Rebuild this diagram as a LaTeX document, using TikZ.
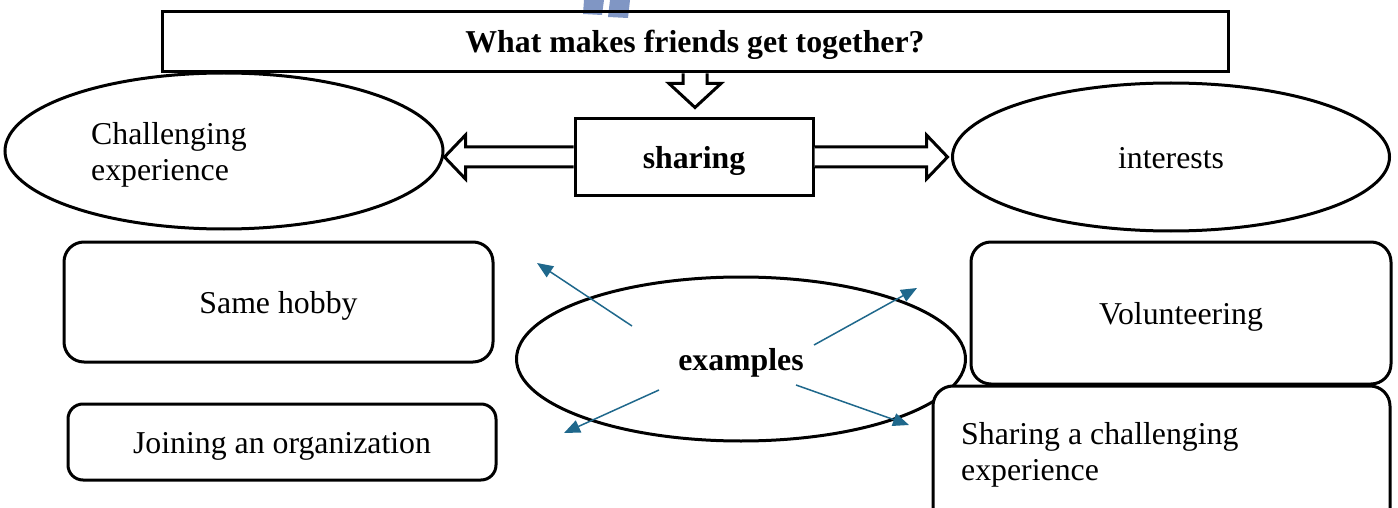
\documentclass[tikz,border=0pt]{standalone}
\usepackage{fontspec}
\setmainfont{Liberation Serif}
\usetikzlibrary{arrows.meta,calc,shapes.geometric}
\definecolor{arrowblue}{RGB}{31,104,140}
\definecolor{wmblue}{RGB}{128,150,196}
\begin{document}
\begin{tikzpicture}[x=1pt,y=-1pt,
  txt/.style={font=\fontsize{31.8}{36.6}\selectfont, inner sep=0pt},
  btxt/.style={font=\fontsize{31.8}{36.6}\selectfont\bfseries, inner sep=0pt},
  one/.style={text height=22pt, text depth=0pt},
  shp/.style={draw, line width=3pt},
  ell/.style={shp, ellipse, inner sep=0pt, fill=white},
  rbox/.style={shp, rounded corners=20pt, fill=white, inner sep=0pt},
  blk/.style={draw, line width=3pt, fill=white, line join=miter},
  ex/.style={draw=arrowblue, line width=1.5pt, -{Triangle[length=16pt,width=13pt]}}]
\useasboundingbox (0,0) rectangle (1398,508);
% watermark fragment
\fill[wmblue] (584,0) -- (604,0) -- (602,15) -- (583,14) -- cycle;
\fill[wmblue] (610,0) -- (630,0) -- (628,18) -- (608,17) -- cycle;
% title
\node[shp, btxt, one, minimum width=1066pt, minimum height=60pt] (title) at (695,42) {What makes friends get together?};
% down block arrow
\draw[blk] ([xshift=-12pt]title.south) -- ++(0,10) -- ++(-14,0) -- ++(26,24) -- ++(26,-24) -- ++(-14,0) -- ++(0,-10);
% ellipses
\node[ell, minimum width=438pt, minimum height=156pt] (chall) at (224,151) {};
\node[txt, anchor=west, align=left] (challtxt) at (91,155) {Challenging\\experience};
\node[ell, txt, one, minimum width=437pt, minimum height=148pt] (interests) at (1171,157) {interests};
% sharing box
\node[shp, btxt, one, minimum width=238pt, minimum height=76pt] (sharing) at (694,157) {sharing};
\draw[blk] ([yshift=10pt]sharing.west) -- ++(-108,0) -- ++(0,-12) -- ++(-21,22) -- ++(21,22) -- ++(0,-12) -- ++(108,0);
\draw[blk] ([yshift=10pt]sharing.east) -- ++(112,0) -- ++(0,-12) -- ++(21,22) -- ++(-21,22) -- ++(0,-12) -- ++(-112,0);
% examples
\node[ell, btxt, one, minimum width=449pt, minimum height=164pt] (examples) at (741,359) {examples};
% boxes
\node[rbox, txt, one, minimum width=429pt, minimum height=120pt] (hobby) at (278.5,302) {Same hobby};
\node[rbox, txt, one, rounded corners=15pt, minimum width=428pt, minimum height=76pt] (joining) at (282,442) {Joining an organization};
\node[rbox, txt, one, minimum width=420pt, minimum height=142pt] (volunteer) at (1181,313) {Volunteering};
\node[rbox, minimum width=457pt, minimum height=144pt] (sharechal) at (1161.5,458) {};
\node[txt, anchor=west, align=left] (sharechaltxt) at (961,455) {Sharing a challenging\\experience};
% blue arrows
\coordinate (e1) at (537,263);
\coordinate (e2) at (917,288);
\coordinate (e3) at (564,433);
\coordinate (e4) at (909,425);
\draw[ex] ($(examples.center)+(-109,-33)$) -- (e1);
\draw[ex] ($(examples.center)+(73,-14)$) -- (e2);
\draw[ex] ($(examples.center)+(-82,31)$) -- (e3);
\draw[ex] ($(examples.center)+(55,26)$) -- (e4);
\end{tikzpicture}
\end{document}
